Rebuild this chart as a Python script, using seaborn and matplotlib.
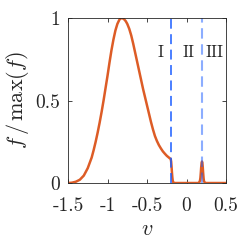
import matplotlib
matplotlib.use('Agg')
import matplotlib.pyplot as plt
import seaborn as sns
import pandas as pd

# values
v = [-1.50, -1.45, -1.40, -1.35, -1.30, -1.25, -1.20, -1.175, -1.15, -1.125,
     -1.10, -1.075, -1.05, -1.025, -1.00, -0.975, -0.95, -0.925, -0.90, -0.875,
     -0.85, -0.835, -0.82, -0.805, -0.79, -0.77, -0.75, -0.725, -0.70, -0.675,
     -0.65, -0.625, -0.60, -0.575, -0.55, -0.525, -0.50, -0.475, -0.45, -0.425,
     -0.40, -0.375, -0.35, -0.325, -0.30, -0.275, -0.25, -0.225, -0.20, -0.195,
     -0.19, -0.185, -0.18, -0.175, -0.17, -0.16, 0.15, 0.16, 0.17, 0.175,
     0.18, 0.185, 0.19, 0.195, 0.20, 0.205, 0.21, 0.215, 0.22, 0.23,
     0.24, 0.50]
f = [0.0, 0.002, 0.008, 0.02, 0.045, 0.09, 0.155, 0.2, 0.25, 0.305,
     0.365, 0.43, 0.5, 0.575, 0.65, 0.73, 0.805, 0.87, 0.925, 0.965,
     0.99, 0.998, 1.0, 0.998, 0.993, 0.982, 0.965, 0.935, 0.895, 0.845,
     0.79, 0.735, 0.68, 0.625, 0.57, 0.52, 0.47, 0.42, 0.37, 0.325,
     0.285, 0.255, 0.23, 0.21, 0.192, 0.178, 0.165, 0.155, 0.145, 0.13,
     0.10, 0.065, 0.035, 0.015, 0.005, 0.0, 0.0, 0.003, 0.015, 0.03,
     0.06, 0.095, 0.12, 0.13, 0.122, 0.095, 0.06, 0.03, 0.012, 0.002,
     0.0, 0.0]
boundaries = [-0.2, 0.2]
region_names = ['I', 'II', 'III']
region_x = [-0.335, 0.02, 0.36]
xticks = [-1.5, -1, -0.5, 0, 0.5]
xticklabels = ['-1.5', '-1', '-0.5', '0', '0.5']
yticks = [0, 0.5, 1]
yticklabels = ['0', '0.5', '1']

df = pd.DataFrame({'v': v, 'f': f})

sns.set_style('ticks')
plt.rcParams['font.family'] = ['cmr10', 'DejaVu Serif']
plt.rcParams['mathtext.fontset'] = 'cm'
plt.rcParams['axes.unicode_minus'] = False

fig = plt.figure(figsize=(2.49, 2.48), dpi=100)
ax = fig.add_axes([0.273, 0.262, 0.635, 0.665])

sns.lineplot(data=df, x='v', y='f', ax=ax, color='#dd5c26', linewidth=1.8)
ax.axvline(boundaries[0], color='#1a5cff', linestyle=(0, (6.5, 3.6)), linewidth=1.1)
ax.axvline(boundaries[1], color='#1a5cff', linestyle=(0, (5, 2.7)), linewidth=1.5, alpha=0.5)

for name, xx in zip(region_names, region_x):
    ax.text(xx, 0.79, name, ha='center', va='center', fontsize=12)

ax.set_xlim(-1.5, 0.5)
ax.set_ylim(0, 1)
ax.set_xticks(xticks)
ax.set_xticklabels(xticklabels)
ax.set_yticks(yticks)
ax.set_yticklabels(yticklabels)
ax.tick_params(direction='in', length=3, width=0.6, top=True, right=True,
               labelsize=14, color='#262626')
ax.tick_params(axis='x', pad=10)
ax.tick_params(axis='y', pad=6)
for s in ax.spines.values():
    s.set_color('#262626')
    s.set_linewidth(0.6)
ax.set_xlabel('$v$', fontsize=16, labelpad=3)
ax.set_ylabel(r'$f\,/\,\max(f)$', fontsize=16, labelpad=3)

fig.savefig('out.png', dpi=100)
